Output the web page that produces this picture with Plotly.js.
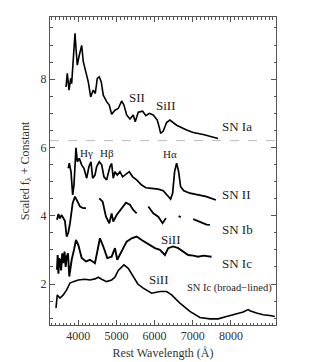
<!DOCTYPE html>
<html><head><meta charset="utf-8">
<script src="https://cdn.plot.ly/plotly-3.0.1.min.js"></script>
<style>html,body{margin:0;padding:0;background:#fff}#c{width:316px;height:362px}</style>
</head><body><div id="c"></div>
<script>
// SN Ia
var iaWave = [3678,3712,3757,3801,3827,3860,3887,3914,3940,3974,4026,4089,4131,4202,4262,4325,4393,4445,4498,4550,4602,4655,4743,4812,4874,4961,5047,5136,5196,5267,5353,5440,5492,5571,5686,5772,5859,5964,6068,6120,6157,6225,6314,6400,6576,6838,7011,7273,7579,7663];
var iaFlux = [7.77,8.17,7.68,8.02,7.87,8.5,8.99,9.34,8.90,8.41,8.70,8.99,8.51,8.21,7.92,7.48,7.68,7.58,8.02,8.07,7.92,7.53,7.34,7.24,6.97,7.09,7.14,7.36,7.24,6.95,6.83,6.95,6.75,7.03,7.06,6.93,7.00,6.95,6.80,6.6,6.41,6.48,6.73,6.80,6.65,6.51,6.44,6.38,6.28,6.26];
// SN II
var iiWave = [3738,3764,3809,3853,3887,3914,3940,3974,4026,4089,4149,4220,4280,4333,4377,4437,4482,4550,4613,4673,4743,4830,4874,4916,4961,5021,5092,5162,5249,5335,5424,5529,5660,5772,5922,6094,6225,6330,6419,6471,6524,6576,6629,6681,6767,6924,7142,7361,7605];
var iiFlux = [5.39,5.54,5.29,4.61,4.90,5.78,5.99,5.58,5.68,5.49,5.39,5.10,5.44,5.58,5.10,5.19,5.44,5.58,5.49,5.14,5.05,5.44,5.53,5.10,5.29,5.19,5.29,5.14,5.21,5.29,5.14,5.05,4.90,4.82,4.80,4.78,4.73,4.61,4.49,4.66,5.29,5.54,5.29,4.85,4.73,4.66,4.61,4.56,4.46];
// SN Ib (gaps as null)
var ibWave = [3442,3480,3520,3560,3600,3650,3696,3738,3783,3853,3914,3974,4045,4131,4202,null,4550,4639,4725,4812,4874,4916,5005,5136,5249,5353,5440,5529,null,5834,5964,6094,6209,6296,null,6630,6663,6680,null,7011,7186,7361,7448];
var ibFlux = [3.88,4.05,3.92,4.02,3.95,3.85,3.39,3.50,3.78,4.37,4.56,4.41,4.27,4.22,4.22,null,4.51,4.41,3.97,3.78,4.07,3.83,4.02,4.22,4.38,4.32,4.17,4.07,null,4.27,4.07,3.97,3.78,3.93,null,3.99,3.97,3.99,null,3.90,3.81,3.74,3.73];
// SN Ic
var icWave = [3442,3460,3480,3500,3521,3550,3580,3607,3640,3670,3696,3730,3764,3800,3827,3887,3940,4000,4089,4202,4306,4437,4568,4655,4760,4874,4961,5021,5136,5267,5398,5529,5660,5791,5922,6008,6139,6270,6356,6487,6618,6749,6880,7011,7142,7273,7492];
var icFlux = [2.42,2.85,2.30,2.75,2.71,2.40,2.90,2.61,2.95,2.50,2.80,2.90,2.22,2.55,2.71,3.00,3.29,3.15,2.76,2.66,2.71,2.61,3.34,3.10,2.76,2.80,3.05,2.71,2.95,3.24,3.34,3.39,3.29,3.19,3.10,3.05,3.00,2.85,3.05,3.10,3.05,2.95,2.85,2.83,2.80,2.83,2.80];
// SN Ic (broad-lined)
var iclWave = [3416,3450,3521,3607,3696,3783,3869,4000,4175,4306,4437,4524,4613,4743,4874,4961,5047,5136,5196,5309,5440,5560,5702,5922,6139,6314,6445,6663,6924,7186,7448,7666,7885,8103,8320,8451,8495,8670,8844,9019,9150];
var iclFlux = [1.30,1.68,1.59,1.68,1.83,2.03,2.07,2.12,2.14,2.12,2.15,2.20,2.14,2.07,2.12,2.20,2.40,2.50,2.56,2.46,2.22,2.00,1.88,1.73,1.78,1.78,1.68,1.44,1.20,1.02,0.98,0.98,1.05,1.12,1.18,1.25,1.22,1.15,1.10,1.08,1.05];

var divider = 6.2;
var labelNames = ['SN Ia','SN II','SN Ib','SN Ic','SN Ic (broad\u2212lined)'];
var labelWave = [7710,7710,7710,7710,6793];
var labelFlux = [6.6,4.61,3.60,2.61,1.89];
var lineNames = ['SII','SiII','H\u03b3','H\u03b2','H\u03b1','SiII','SiII'];
var lineWave = [5550,6300,4220,4743,6400,6419,6113];
var lineFlux = [7.45,7.24,5.83,5.83,5.80,3.31,2.12];

var serif = 'Liberation Serif, Times New Roman, serif';
function tr(x,y,w){return {x:x,y:y,type:'scatter',mode:'lines',line:{color:'#000',width:w},connectgaps:false,hoverinfo:'skip'};}
var data = [
  {x:[3259,9180],y:[divider,divider],type:'scatter',mode:'lines',line:{color:'#bbb',width:1,dash:'dash'}},
  tr(iaWave,iaFlux,1.6), tr(iiWave,iiFlux,1.7), tr(ibWave,ibFlux,1.8), tr(icWave,icFlux,1.9), tr(iclWave,iclFlux,1.6)
];
var ann = [];
for (var i=0;i<labelNames.length;i++){
  ann.push({x:labelWave[i],y:labelFlux[i],text:labelNames[i],showarrow:false,xanchor:'left',yanchor:'middle',
    font:{family:serif,size:i==4?10.5:13,color:'#222'}});
}
for (var j=0;j<lineNames.length;j++){
  ann.push({x:lineWave[j],y:lineFlux[j],text:lineNames[j],showarrow:false,xanchor:'center',yanchor:'middle',
    font:{family:serif,size:(j>=2&&j<=4)?11:13,color:'#222'}});
}
var layout = {
  width:316,height:362,showlegend:false,
  margin:{l:50,r:40,t:17,b:37},
  paper_bgcolor:'#fff',plot_bgcolor:'#fff',
  font:{family:serif,size:12,color:'#333'},
  xaxis:{range:[3259,9180],tickvals:[4000,5000,6000,7000,8000],ticktext:['4000','5000','6000','7000','8000'],
    ticks:'inside',ticklen:5,tickcolor:'#555',showline:true,linecolor:'#555',linewidth:1,mirror:'allticks',
    showgrid:false,zeroline:false,tickfont:{family:serif,size:12,color:'#333'},
    minor:{dtick:100,ticks:'inside',ticklen:2.5,tickcolor:'#555',showgrid:false},
    title:{text:'Rest Wavelength (\u00c5)',font:{family:serif,size:12,color:'#333'},standoff:6}},
  yaxis:{range:[0.8,9.82],tickvals:[2,4,6,8],ticktext:['2','4','6','8'],
    ticks:'inside',ticklen:5,tickcolor:'#555',showline:true,linecolor:'#555',linewidth:1,mirror:'allticks',
    showgrid:false,zeroline:false,tickfont:{family:serif,size:12,color:'#333'},
    minor:{dtick:0.5,ticks:'inside',ticklen:2.5,tickcolor:'#555',showgrid:false},
    title:{text:'Scaled f<sub>\u03bb</sub> + Constant',font:{family:serif,size:12,color:'#333'},standoff:8}},
  annotations:ann
};
Plotly.newPlot('c',data,layout,{staticPlot:true,displayModeBar:false});
</script></body></html>
